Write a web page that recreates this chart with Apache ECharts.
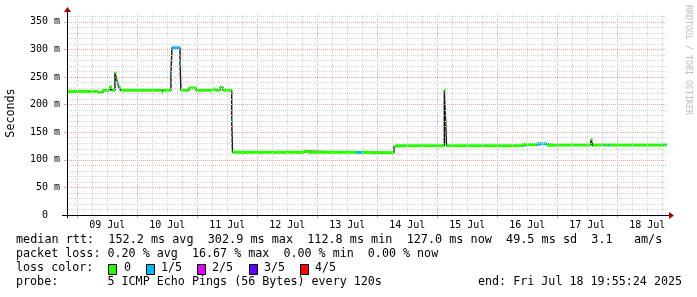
<!DOCTYPE html>
<html><head><meta charset="utf-8">
<script src="https://cdn.jsdelivr.net/npm/echarts@6/dist/echarts.min.js"></script>
<style>html,body{margin:0;padding:0;background:#fff}#c{width:697px;height:297px}</style>
</head><body><div id="c"></div><script>
// ---- data (median rtt in ms, step segments starting at these times) ----
const segTimes = ['07-08 19:56','07-09 08:20','07-09 09:55','07-09 11:07','07-09 13:07','07-09 13:55','07-09 15:07','07-09 15:43','07-09 16:07','07-09 16:26','07-09 16:43','07-09 17:24',
  '07-10 09:43','07-10 10:19','07-10 13:31','07-10 13:55','07-10 17:07','07-10 17:31','07-10 20:43','07-10 23:31','07-11 05:55','07-11 07:07','07-11 09:07','07-11 10:19',
  '07-11 13:48','07-11 14:07','07-12 18:43','07-12 20:07','07-13 15:48','07-13 17:48','07-13 21:07','07-14 06:43','07-14 07:19',
  '07-15 02:50','07-15 03:24','07-15 03:43','07-16 09:48','07-16 15:48','07-16 19:48','07-17 00:19','07-17 13:31','07-17 14:12','07-17 14:43',
  '07-17 18:19','07-17 18:43','07-17 20:19','07-17 20:43','07-18 18:07','07-18 18:31'];
const segValues = [224,222,225.5,226,232,226,258,246,240,236,231,226,
  223,226,255,302.9,274,226,230,226,228,226,231,226,
  173,113.5,115.5,113.5,113.5,113.5,112.8,124,125.5,
  226,167,125.5,127.5,129,126.5,127,137,126,127,
  127,127,127,127,127,127];
const segLoss = [0,0,0,0,0,0,0,0,0,1,0,0,
  0,0,1,1,1,0,0,0,0,0,0,0,
  0,0,0,0,1,0,0,0,0,
  0,0,0,0,1,0,0,0,0,0,
  1,0,1,0,1,0];
const endTime = '07-18 19:55';
const dayLabels = ['09 Jul','10 Jul','11 Jul','12 Jul','13 Jul','14 Jul','15 Jul','16 Jul','17 Jul','18 Jul'];
const lossNames = ['0','1/5','2/5','3/5','4/5'];
const lossColors = ['#26ff00','#00b8ff','#dd00ff','#5e00ff','#ff0000'];
const statsLine1 = 'median rtt:  152.2 ms avg  302.9 ms max  112.8 ms min  127.0 ms now  49.5 ms sd  3.1   am/s';
const statsLine2 = 'packet loss: 0.20 % avg  16.67 % max  0.00 % min  0.00 % now';
const probeLine = 'probe:       5 ICMP Echo Pings (56 Bytes) every 120s';
const endLine = 'end: Fri Jul 18 19:55:24 2025';

// ---- helpers ----
const START = Date.UTC(2025,6,8,19,55,24);
function toH(s){const [md,hm]=s.split(' ');const [mo,d]=md.split('-').map(Number);const [h,mi]=hm.split(':').map(Number);return (Date.UTC(2025,mo-1,d,h,mi)-START)/3600000;}
const XMAX = 240, YMAX = 366;
const bands = [], medLine = [];
for (let i=0;i<segTimes.length;i++){
  const t0=toH(segTimes[i]), t1=i+1<segTimes.length?toH(segTimes[i+1]):toH(endTime);
  bands.push([t0,t1,segValues[i],segLoss[i]]);
  medLine.push([t0,segValues[i]],[t1,segValues[i]]);
}
const monthIdx = {Jul:6};
const noonTimes = dayLabels.map(l=>{const [d,m]=l.split(' ');return (Date.UTC(2025,monthIdx[m],+d,12)-START)/3600000;});
const MINOR='#d4d4d4', MAJOR='#e8a6a6';
const gridMarks=[];
for (let d=8; d<=19; d++) for (let h=0; h<24; h+=6){
  const t=(Date.UTC(2025,6,d,h)-START)/3600000;
  if (t>0 && t<XMAX) gridMarks.push({xAxis:t,lineStyle:{color:h===0?MAJOR:MINOR,type:[1,1],width:1}});
}
const midnights = gridMarks.filter(m=>m.lineStyle.color===MAJOR).map(m=>m.xAxis);
for (let v=10; v<YMAX; v+=10) gridMarks.push({yAxis:v,lineStyle:{color:v%50===0?MAJOR:MINOR,type:[1,1],width:1}});

const MONO='DejaVu Sans Mono';
const FS='11.7px '+MONO;
const chart = echarts.init(document.getElementById('c'),null,{renderer:'canvas'});
const GL=67, GR=667, GT=13, GB=215;
const legendGraphics=[
  {type:'text',left:16,top:234,style:{text:statsLine1,font:'11.8px '+MONO,fill:'#000'}},
  {type:'text',left:16,top:248,style:{text:statsLine2,font:FS,fill:'#000'}},
  {type:'text',left:16,top:262,style:{text:'loss color:',font:FS,fill:'#000'}},
  {type:'text',left:16,top:276,style:{text:probeLine,font:FS,fill:'#000'}},
  {type:'text',left:478,top:276,style:{text:endLine,font:FS,fill:'#000'}},
  {type:'text',x:11,y:113,rotation:Math.PI/2,style:{text:'Seconds',font:FS,fill:'#000',align:'center',verticalAlign:'middle'}},
  {type:'text',x:688,y:5,rotation:-Math.PI/2,style:{text:'RRDTOOL / TOBI OETIKER',font:'8.3px '+MONO,fill:'#bdbdbd',align:'left',verticalAlign:'middle'}},
  {type:'line',z:20,shape:{x1:62,y1:GB+0.5,x2:670,y2:GB+0.5},style:{stroke:'#000',lineWidth:1}},
  {type:'line',z:20,shape:{x1:GL+0.5,y1:GB+3,x2:GL+0.5,y2:10},style:{stroke:'#000',lineWidth:1}},
  {type:'polygon',z:20,shape:{points:[[669,212],[674,215.5],[669,219]]},style:{fill:'#a00000'}},
  {type:'polygon',z:20,shape:{points:[[64,12],[67.5,7],[71,12]]},style:{fill:'#a00000'}}
];
const boxX=[108,146,197,249,300], txtX=[124,161,212,264,315];
lossNames.forEach((n,i)=>{
  legendGraphics.push({type:'rect',shape:{x:boxX[i]+0.5,y:264.5,width:8,height:10},style:{fill:lossColors[i],stroke:'#000',lineWidth:1}});
  legendGraphics.push({type:'text',left:txtX[i],top:262,style:{text:n,font:FS,fill:'#000'}});
});

chart.setOption({
  animation:false,
  backgroundColor:'#fff',
  grid:{left:GL,top:GT,width:GR-GL,height:GB-GT,containLabel:false},
  xAxis:{type:'value',min:0,max:XMAX,z:10,
    axisLine:{show:false},
    axisTick:{show:true,customValues:midnights,length:3,lineStyle:{color:MAJOR}},
    axisLabel:{customValues:noonTimes,margin:5,fontFamily:MONO,fontSize:10,color:'#000',
      formatter:v=>{let b=0,bd=1e9;noonTimes.forEach((t,i)=>{if(Math.abs(t-v)<bd){bd=Math.abs(t-v);b=i;}});return dayLabels[b];}},
    splitLine:{show:false}},
  yAxis:{type:'value',min:0,max:YMAX,interval:50,z:10,
    axisLine:{show:false},
    axisTick:{show:true,length:3,lineStyle:{color:MAJOR}},
    axisLabel:{margin:7,fontFamily:MONO,fontSize:10,color:'#000',showMaxLabel:false,
      formatter:v=>v===0?'0  ':v+' m'},
    splitLine:{show:false}},
  graphic:legendGraphics,
  series:[
    {type:'line',data:[],z:1,silent:true,
      markLine:{silent:true,symbol:['none','none'],label:{show:false},animation:false,emphasis:{disabled:true},data:gridMarks}},
    {type:'line',data:medLine,z:2,symbol:'none',silent:true,lineStyle:{color:'#202020',width:1.5}},
    {type:'custom',data:bands,z:3,silent:true,encode:{x:[0,1],y:2},
      renderItem:(params,api)=>{
        const p0=api.coord([api.value(0),api.value(2)]), p1=api.coord([api.value(1),api.value(2)]);
        return {type:'rect',shape:{x:p0[0],y:p0[1]-1.5,width:p1[0]-p0[0],height:3},style:{fill:lossColors[api.value(3)]}};
      }}
  ]
});
</script></body></html>
